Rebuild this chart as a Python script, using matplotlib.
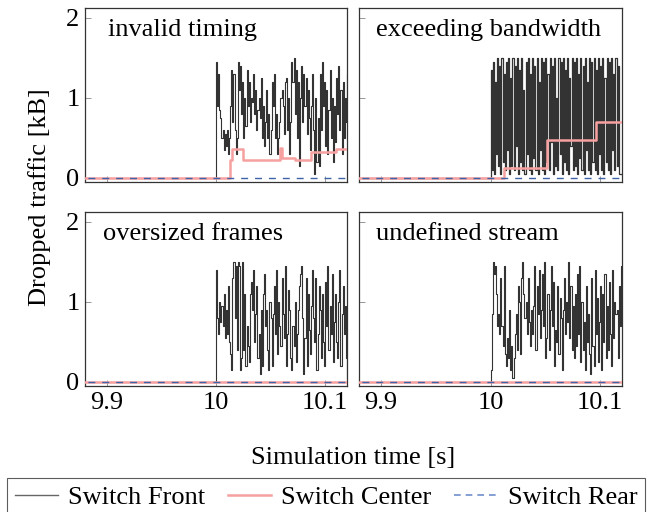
import numpy as np
import matplotlib
matplotlib.use("Agg")
import matplotlib.pyplot as plt
from matplotlib.lines import Line2D

plt.rcParams['font.family'] = ['Liberation Serif', 'DejaVu Serif']

# ---- data -------------------------------------------------------------
t_start = 10.0          # onset of the attack [s]
dt = 0.001              # sample interval of the Switch Front trace [s]
t_min, t_max = 9.87, 10.125

panel_titles = ["invalid timing", "exceeding bandwidth", "oversized frames", "undefined stream"]

front_invalid_timing = [
    1.45, 0.9, 1.3, 0.85, 0.75, 0.5, 0.6, 0.35, 0.55, 0.4, 0.6, 0.3, 0.5,
    0.9, 1.35, 0.7, 1.3, 0.6, 0.3, 0.5, 1.45, 1.1, 1.4, 0.8, 1.2, 0.5,
    1.0, 0.65, 1.35, 0.9, 1.2, 0.7, 1.0, 0.95, 1.3, 0.8, 1.1, 0.6, 0.85, 1.0, 0.75,
    1.25, 0.5, 0.9, 0.4, 0.7, 1.1, 0.5, 0.8, 0.3, 0.6,
    1.2, 0.9, 1.3, 0.5, 0.8, 0.3, 0.5, 0.7, 1.0, 1.1, 0.9,
    0.55, 1.2, 1.25, 0.6, 1.0, 0.3, 0.7, 1.45, 1.2,
    1.5, 0.8, 1.35, 0.5, 1.2, 0.15, 1.0, 1.4, 0.7, 1.3,
    0.9, 1.25, 0.55, 1.1, 0.75, 0.35, 0.9, 1.3, 0.6, 0.05,
    1.0, 0.2, 0.75, 0.15, 1.3, 0.6, 1.45, 0.9, 1.2, 0.4,
    1.1, 0.3, 0.85, 1.35, 0.5, 1.0, 0.2, 0.9, 0.45, 1.25,
    0.8, 1.4, 0.6, 1.1, 0.3, 1.2, 0.5, 1.0, 0.7, 1.3,
]

front_exceeding_bandwidth = [
    1.35, 0.1, 1.45, 0.05, 1.2, 0.3, 1.5, 0.15, 1.4, 0.05, 1.5, 0.2, 1.3, 0.1,
    1.45, 0.35, 1.5, 0.05, 1.25, 0.15, 1.5, 0.1, 1.4, 0.4, 1.5, 0.05, 1.35, 0.2,
    1.5, 0.1, 1.1, 0.05, 1.45, 0.3, 1.5, 0.1, 1.3, 0.05, 1.5, 0.25, 1.4, 0.1,
    1.5, 0.05, 1.2, 0.35, 1.5, 0.1, 1.45, 0.05, 1.5, 0.2, 1.3, 0.1, 1.5, 0.45,
    1.4, 0.05, 1.5, 0.15, 1.0, 0.1, 1.5, 0.3, 1.45, 0.05, 1.5, 0.2, 1.35, 0.1,
    1.5, 0.05, 1.25, 0.4, 1.5, 0.1, 1.45, 0.15, 1.5, 0.05, 1.3, 0.25, 1.5, 0.1,
    1.4, 0.05, 1.5, 0.35, 1.2, 0.1, 1.5, 0.05, 1.45, 0.2, 1.5, 0.1, 1.35, 0.05,
    1.5, 0.3, 1.4, 0.1, 1.5, 0.05, 1.25, 0.2, 1.5, 0.1, 1.45, 0.05, 1.5, 0.35,
    1.3, 0.1, 1.5, 0.15, 1.4, 0.05,
]

front_oversized_frames = [
    1.4, 0.8, 0.6, 1.0, 0.75, 0.95, 0.7, 1.1, 0.55, 0.9, 0.6,
    1.2, 0.5, 0.35, 0.15, 1.3, 1.5, 0.8, 1.45, 0.4, 1.5,
    1.45, 0.15, 0.3, 1.5, 0.4, 1.1, 0.2, 0.7, 0.45, 0.25,
    1.1, 1.25, 0.9, 1.4, 0.5, 0.85, 1.2, 0.3, 0.6, 0.1,
    0.9, 0.2, 1.1, 1.35, 0.7, 0.9, 0.4, 0.15, 1.0, 0.8,
    0.2, 0.85, 1.2, 0.6, 1.4, 0.35, 1.0, 0.7, 0.45, 1.3,
    0.85, 0.55, 1.45, 0.2, 0.6, 1.15, 0.9, 0.3, 0.15, 0.7,
    0.45, 1.0, 0.25, 0.6, 0.9, 1.2, 1.35, 1.45, 0.8, 0.1,
    0.55, 1.3, 0.2, 1.1, 0.65, 0.35, 0.95, 1.4, 0.8, 0.5,
    1.3, 0.15, 0.6, 1.2, 0.9, 0.3, 1.1, 0.5, 0.2, 1.25,
    0.7, 1.45, 0.4, 0.95, 0.6, 1.35, 0.25, 0.75, 1.1, 0.5,
    0.3, 1.0, 1.4, 0.2, 0.85, 1.2, 0.6, 0.95, 0.3, 0.05,
]

front_undefined_stream = [
    0.15, 0.85, 1.5, 1.35, 1.45, 1.1, 0.7, 0.85, 0.6, 1.3, 0.7,
    0.45, 1.45, 0.35, 0.2, 0.55, 0.3, 0.9, 0.15, 0.45, 0.05,
    0.3, 0.6, 0.85, 0.4, 1.2, 1.0, 0.35, 1.3, 1.5, 1.1,
    0.8, 1.0, 0.6, 1.3, 0.75, 0.45, 0.9, 0.6, 0.95, 1.45,
    0.4, 1.2, 0.85, 1.4, 0.55, 0.9, 1.35, 0.7, 1.5, 0.3,
    0.55, 1.1, 0.4, 0.9, 1.45, 0.7, 1.25, 0.2, 0.65, 0.5,
    1.2, 0.35, 1.05, 0.8, 0.15, 0.9, 1.3, 0.6, 1.0, 0.75,
    1.5, 0.55, 1.2, 0.4, 0.95, 0.3, 1.1, 0.45, 1.35, 0.6,
    1.45, 0.25, 1.0, 0.4, 0.75, 0.15, 1.2, 0.5, 0.85, 0.35,
    0.1, 1.3, 0.45, 0.2, 1.4, 0.6, 1.05, 0.25, 0.75, 1.2,
    0.15, 1.1, 0.5, 1.35, 0.3, 0.95, 0.4, 1.25, 0.6, 0.2,
    1.4, 0.55, 1.0, 0.85, 0.9, 0.3, 1.2, 0.7, 1.45, 0.75,
]

# Switch Center (step changes: time, value)
center_invalid_timing_t = [9.87, 10.013, 10.015, 10.0245, 10.0585, 10.0605, 10.072, 10.087, 10.110, 10.125]
center_invalid_timing_v = [0.0, 0.22, 0.36, 0.22, 0.37, 0.25, 0.22, 0.33, 0.36, 0.36]
center_exceeding_bandwidth_t = [9.87, 10.012, 10.0515, 10.0965, 10.125]
center_exceeding_bandwidth_v = [0.0, 0.12, 0.47, 0.70, 0.70]
center_oversized_frames_t = [9.87, 10.125]
center_oversized_frames_v = [0.0, 0.0]
center_undefined_stream_t = [9.87, 10.125]
center_undefined_stream_v = [0.0, 0.0]

# Switch Rear (no drops)
rear_t = [9.87, 10.125]
rear_v = [0.0, 0.0]

front_series = [front_invalid_timing, front_exceeding_bandwidth,
                front_oversized_frames, front_undefined_stream]
center_series = [(center_invalid_timing_t, center_invalid_timing_v),
                 (center_exceeding_bandwidth_t, center_exceeding_bandwidth_v),
                 (center_oversized_frames_t, center_oversized_frames_v),
                 (center_undefined_stream_t, center_undefined_stream_v)]

# ---- style ------------------------------------------------------------
c_front = '#333333'
c_center = '#f7a0a0'
c_rear = '#3f63a8'
fs = 19

fig = plt.figure(figsize=(6.52, 5.12), dpi=100)
W, H = 652, 512
boxes = [(85, 8, 347, 182), (359, 8, 622, 182), (85, 212, 347, 386), (359, 212, 622, 386)]
title_x = [0.088, 0.065, 0.069, 0.065]
front_lw = [0.8, 0.9, 0.8, 0.8]

for i, (x0, y0, x1, y1) in enumerate(boxes):
    ax = fig.add_axes([x0 / W, 1 - y1 / H, (x1 - x0) / W, (y1 - y0) / H])
    vals = front_series[i]
    t = np.concatenate(([t_min], t_start + dt * np.arange(len(vals)), [t_max]))
    v = np.concatenate(([0.0], vals, [vals[-1]]))
    ax.plot(t, v, drawstyle='steps-post', color=c_front, lw=front_lw[i], zorder=2)
    ct, cv = center_series[i]
    ax.plot(ct, cv, drawstyle='steps-post', color=c_center, lw=1.8, zorder=3)
    ax.plot(rear_t, rear_v, color=c_rear, lw=1.0, ls=(0, (5, 5)), zorder=4)

    ax.set_xlim(9.88, 10.12)
    ax.set_ylim(-0.05, 2.125)
    ax.set_xticks([9.9, 10.0, 10.1])
    ax.set_yticks([0, 1, 2])
    ax.tick_params(direction='in', length=4, width=0.6, color='#888888',
                   labelsize=fs, pad=4)
    if i in (0, 1):
        ax.set_xticklabels([])
    else:
        ax.set_xticklabels(['9.9', '10', '10.1'])
    if i in (1, 3):
        ax.set_yticklabels([])
    else:
        ax.set_yticklabels(['0', '1', '2'])
    for s in ax.spines.values():
        s.set_color('#333333')
        s.set_linewidth(0.9)
    ax.text(title_x[i], 0.875, panel_titles[i], transform=ax.transAxes,
            fontsize=fs, ha='left', va='center')

fig.text(353 / W, 1 - 458 / H, 'Simulation time [s]', fontsize=fs, ha='center', va='center')
fig.text(40 / W, 1 - 197 / H, 'Dropped traffic [kB]', fontsize=fs, ha='center', va='center',
         rotation=90)

handles = [Line2D([], [], color='#666666', lw=1.0),
           Line2D([], [], color=c_center, lw=1.8),
           Line2D([], [], color='#6f8fcc', lw=1.2, ls=(0, (4, 3)))]
leg = fig.legend(handles, ['Switch Front', 'Switch Center', 'Switch Rear'],
                 loc='upper center', bbox_to_anchor=(0.5, 1 - 478 / H), ncol=3,
                 fontsize=fs, frameon=True, fancybox=False, edgecolor='#333333',
                 handlelength=1.65, columnspacing=0.85, borderpad=0.3, handletextpad=0.38,
                 borderaxespad=0.0)
leg.get_frame().set_linewidth(0.8)

fig.savefig('out.png', dpi=100)
